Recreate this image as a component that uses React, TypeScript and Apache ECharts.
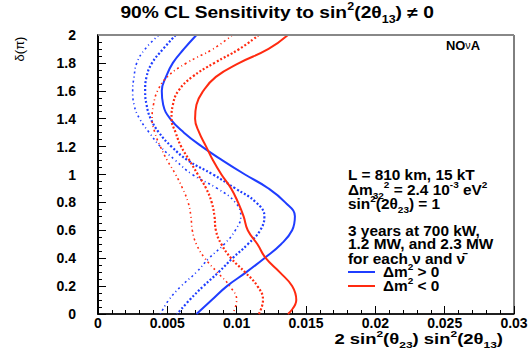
import React, { useEffect, useRef } from "react";
import * as echarts from "echarts";

// δ (in units of π), from 2 down to 0
const delta = [2.0, 1.9, 1.8, 1.7, 1.6, 1.5, 1.4, 1.3, 1.2, 1.1, 1.0, 0.9, 0.8, 0.7, 0.6, 0.5, 0.4, 0.3, 0.2, 0.1, 0.0];

// Δm² > 0 (blue): 700 kW, 1.2 MW, 2.3 MW
const nh700 = [0.0044, 0.0034, 0.0028, 0.0026, 0.0025, 0.0026, 0.003, 0.0037, 0.0045, 0.0056, 0.0068, 0.0086, 0.0099, 0.0103, 0.0099, 0.0091, 0.008, 0.0071, 0.006, 0.0051, 0.0045];
const nh1200 = [0.0056, 0.0047, 0.0039, 0.0035, 0.0034, 0.0035, 0.0038, 0.0044, 0.0053, 0.0065, 0.0083, 0.0099, 0.0114, 0.012, 0.0117, 0.0108, 0.0097, 0.0087, 0.0076, 0.0066, 0.0057];
const nh2300 = [0.0071, 0.0062, 0.0054, 0.0049, 0.0046, 0.0047, 0.0052, 0.0062, 0.0075, 0.009, 0.0106, 0.0123, 0.0135, 0.0142, 0.014, 0.0132, 0.012, 0.0107, 0.0093, 0.0082, 0.0071];

// Δm² < 0 (red): 700 kW, 1.2 MW, 2.3 MW
const ih700 = [0.0097, 0.0083, 0.0064, 0.005, 0.0043, 0.004, 0.0039, 0.0041, 0.0045, 0.005, 0.0056, 0.0061, 0.0065, 0.0067, 0.0068, 0.0071, 0.0077, 0.0086, 0.0095, 0.01, 0.0097];
const ih1200 = [0.0116, 0.0102, 0.0084, 0.0068, 0.0058, 0.0054, 0.0053, 0.0056, 0.006, 0.0066, 0.0072, 0.0078, 0.0082, 0.0084, 0.0085, 0.0089, 0.0096, 0.0106, 0.0115, 0.0119, 0.0116];
const ih2300 = [0.0137, 0.0123, 0.0102, 0.0085, 0.0076, 0.0071, 0.007, 0.0073, 0.0078, 0.0083, 0.0089, 0.0096, 0.0101, 0.0105, 0.0108, 0.0115, 0.0121, 0.0131, 0.014, 0.0143, 0.0137];

const xMin = 0;
const xMax = 0.03;
const xStep = 0.005;
const yMin = 0;
const yMax = 2;
const yStep = 0.2;

const infoLines = [
  "L = 810 km, 15 kT",
  "Δm{sub|32}{sup|2} = 2.4 10{sup|-3} eV{sup|2}",
  "sin{sup|2}(2θ{sub|23}) = 1",
  "3 years at 700 kW,",
  "1.2 MW, and 2.3 MW",
  "for each ν and ν̄",
];
const legendLabels = ["Δm{sup|2} > 0", "Δm{sup|2} < 0"];

const BLUE = "#1f3dff";
const RED = "#ff2a10";
const FONT = "Liberation Sans, Arial, Helvetica, sans-serif";

const richSmall = (s: number) => ({
  sup: { fontSize: s * 0.65, fontWeight: "bold", fontFamily: FONT, verticalAlign: "top", lineHeight: s * 0.7, fill: "#000" },
  sub: { fontSize: s * 0.65, fontWeight: "bold", fontFamily: FONT, verticalAlign: "bottom", lineHeight: s * 0.8, fill: "#000" },
});

const richText = (t: string, x: number, y: number, size: number, sx: number, align = "left") => ({
  type: "text",
  x,
  y,
  scaleX: sx,
  style: {
    text: t,
    fill: "#000",
    font: `bold ${size}px ${FONT}`,
    lineHeight: size * 1.4,
    textAlign: align,
    textVerticalAlign: "middle",
    rich: richSmall(size),
  },
});

export default function App() {
  const ref = useRef<HTMLDivElement>(null);
  useEffect(() => {
    if (!ref.current) return;
    const chart = echarts.init(ref.current, undefined, { renderer: "svg" });
    const mk = (vals: number[], color: string, width: number, type: any, name: string) => ({
      type: "line",
      name,
      data: delta.map((d, i) => [vals[i], d]),
      smooth: 0.45,
      symbol: "none",
      lineStyle: { color, width, type },
      z: 3,
    });
    const sparse = [2, 3, 1, 3];
    const dense = [2, 2];
    const gl = 98, gt = 35, gw = 416, gh = 279;
    const infoY = [175, 190, 204, 231, 244, 259];
    chart.setOption({
      animation: false,
      grid: { left: gl, top: gt, width: gw, height: gh, show: true, borderColor: "#000", borderWidth: 1 },
      xAxis: {
        type: "value",
        min: xMin,
        max: xMax,
        interval: xStep,
        axisLine: { show: true, onZero: false, lineStyle: { color: "#000", width: 1.5 } },
        axisTick: { show: true, inside: true, length: 8, lineStyle: { color: "#000", width: 1 } },
        minorTick: { show: true, splitNumber: 5, length: 4, lineStyle: { color: "#000", width: 1 } },
        splitLine: { show: false },
        axisLabel: { color: "#000", fontSize: 14, fontWeight: "bold", fontFamily: FONT, margin: 2 },
      },
      yAxis: {
        type: "value",
        min: yMin,
        max: yMax,
        interval: yStep,
        axisLine: { show: true, onZero: false, lineStyle: { color: "#000", width: 2 } },
        axisTick: { show: true, inside: true, length: 8, lineStyle: { color: "#000", width: 1 } },
        minorTick: { show: true, splitNumber: 4, length: 4, lineStyle: { color: "#000", width: 1 } },
        splitLine: { show: false },
        axisLabel: { color: "#000", fontSize: 14, fontWeight: "bold", fontFamily: FONT, margin: 22 },
      },
      series: [
        mk(nh700, BLUE, 1.6, sparse, "nh700"),
        mk(nh1200, BLUE, 2.2, dense, "nh1200"),
        mk(nh2300, BLUE, 2, "solid", "nh2300"),
        mk(ih700, RED, 1.6, sparse, "ih700"),
        mk(ih1200, RED, 2.2, dense, "ih1200"),
        mk(ih2300, RED, 2, "solid", "ih2300"),
      ],
      graphic: [
        { type: "line", shape: { x1: gl, y1: gt, x2: gl + gw, y2: gt }, style: { stroke: "#888", lineWidth: 2 }, z: 10 },
        richText("90% CL Sensitivity to sin{sup|2}(2θ{sub|13}) ≠ 0", 277, 13, 16, 1.2, "center"),
        richText("2 sin{sup|2}(θ{sub|23}) sin{sup|2}(2θ{sub|13})", 503, 339, 15, 1.23, "right"),
        {
          type: "text",
          x: 19,
          y: 49,
          rotation: Math.PI / 2,
          style: {
            text: "δ(π)",
            fill: "#000",
            font: `13px ${FONT}`,
            textAlign: "center",
            textVerticalAlign: "middle",
          },
        },
        {
          type: "text",
          x: 463,
          y: 46,
          scaleX: 1.08,
          style: {
            text: "NO{nu|ν}A",
            fill: "#000",
            font: `bold 12px ${FONT}`,
            textAlign: "center",
            textVerticalAlign: "middle",
            rich: { nu: { fontSize: 10, fontFamily: FONT, fill: "#000" } },
          },
        },
        ...infoLines.map((t, i) => richText(t, 348, infoY[i], 14, 1.1)),
        { type: "line", shape: { x1: 348, y1: 272, x2: 375, y2: 272 }, style: { stroke: BLUE, lineWidth: 2 } },
        { type: "line", shape: { x1: 348, y1: 286, x2: 375, y2: 286 }, style: { stroke: RED, lineWidth: 2 } },
        richText(legendLabels[0], 383, 272, 14, 1.1),
        richText(legendLabels[1], 383, 286, 14, 1.1),
      ],
    });
    return () => chart.dispose();
  }, []);
  return <div ref={ref} style={{ position: "fixed", left: 0, top: 0, width: 532, height: 350, background: "#fff" }} />;
}
